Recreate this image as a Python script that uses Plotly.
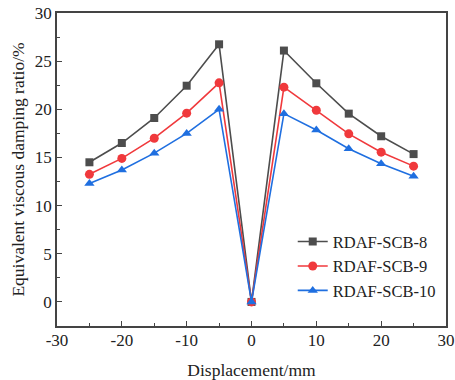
import plotly.graph_objects as go

displacement = [-25, -20, -15, -10, -5, 0, 5, 10, 15, 20, 25]
scb8 = [14.5, 16.5, 19.1, 22.45, 26.75, 0, 26.1, 22.7, 19.55, 17.2, 15.35]
scb9 = [13.25, 14.9, 17.0, 19.6, 22.75, 0, 22.3, 19.9, 17.45, 15.55, 14.1]
scb10 = [12.3, 13.7, 15.45, 17.5, 20.0, 0, 19.55, 17.85, 15.9, 14.35, 13.05]

x_tickvals = [-30, -20, -10, 0, 10, 20, 30]
x_ticktext = ["-30", "-20", "-10", "0", "10", "20", "30"]
y_tickvals = [0, 5, 10, 15, 20, 25, 30]

names = ["RDAF-SCB-8", "RDAF-SCB-9", "RDAF-SCB-10"]
colors = ["#4d4d4d", "#f0393c", "#1f6fe0"]
symbols = ["square", "circle", "triangle-up"]
sizes = [8, 9, 9]

fig = go.Figure()
for vals, nm, c, s, sz in zip([scb8, scb9, scb10], names, colors, symbols, sizes):
    fig.add_trace(go.Scatter(
        x=displacement, y=vals, name=nm, mode="lines+markers",
        line=dict(color=c, width=1.6),
        marker=dict(symbol=s, size=sz, color=c),
    ))

font_family = "Liberation Serif, Times New Roman, serif"
axis_common = dict(
    showline=True, linecolor="#444", linewidth=1.5, mirror=True,
    ticks="inside", ticklen=5, tickwidth=1.2, tickcolor="#444",
    showgrid=False, zeroline=False,
    tickfont=dict(family=font_family, size=17, color="#222"),
)
fig.update_xaxes(
    range=[-30, 30], tickmode="array", tickvals=x_tickvals, ticktext=x_ticktext,
    minor=dict(ticks="inside", ticklen=3, dtick=5, tick0=-30, tickcolor="#444"),
    title=dict(text="Displacement/mm", font=dict(family=font_family, size=17.5, color="#222"), standoff=16),
    ticklabelstandoff=-2,
    **axis_common,
)
fig.update_yaxes(
    range=[-2.5, 30], tickmode="array", tickvals=y_tickvals,
    minor=dict(ticks="inside", ticklen=3, dtick=2.5, tick0=0, tickcolor="#444"),
    title=dict(text="Equivalent viscous damping ratio/%", font=dict(family=font_family, size=17.5, color="#222"), standoff=6),
    **axis_common,
)
fig.update_layout(
    width=455, height=380,
    margin=dict(l=57, r=9, t=13, b=54, autoexpand=False),
    plot_bgcolor="white", paper_bgcolor="white",
    legend=dict(
        x=0.606, y=0.325, xanchor="left", yanchor="top",
        font=dict(family=font_family, size=16.5, color="#222"),
        bgcolor="rgba(0,0,0,0)", tracegroupgap=0, itemsizing="trace",
    ),
)
fig.write_html("out.html", config={"displayModeBar": False},
               post_script="document.body.style.margin='0';document.body.style.padding='0';")
